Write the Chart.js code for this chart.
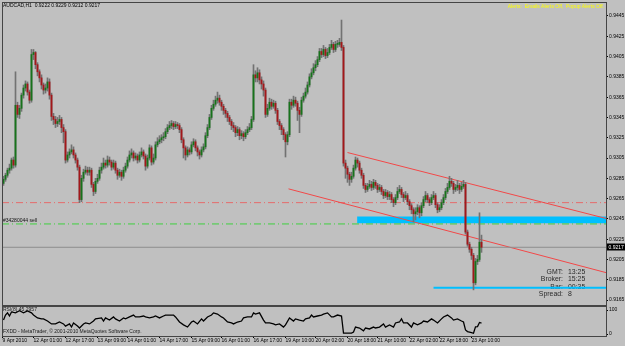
<!DOCTYPE html>
<html><head><meta charset="utf-8">
<script src="https://cdn.jsdelivr.net/npm/chart.js@4/dist/chart.umd.min.js"></script>
<style>
html,body{margin:0;padding:0;background:#c0c0c0;}
#wrap{position:relative;width:625px;height:346px;overflow:hidden;background:#c0c0c0;}
.pane{position:absolute;left:0;width:625px;}
</style></head><body>
<div id="wrap">
<div class="pane" style="top:0;height:306px"><canvas id="main" width="625" height="306"></canvas></div>
<div class="pane" style="top:306px;height:40px"><canvas id="rsi" width="625" height="40"></canvas></div>
</div>
<script>
// ---------- DATA ----------
const firstOpen = 0.9280;
const closes = [
0.9284,0.9288,0.9293,0.9295,0.9303,0.9298,0.9357,0.9348,0.9354,0.9367,
0.9374,0.9378,0.9370,0.9362,0.9407,0.9409,0.9397,0.9390,0.9384,0.9377,
0.9372,0.9374,0.9380,0.9367,0.9346,0.9343,0.9339,0.9341,0.9343,0.9335,
0.9331,0.9303,0.9308,0.9311,0.9313,0.9308,0.9303,0.9296,0.9264,0.9285,
0.9291,0.9293,0.9291,0.9293,0.9279,0.9272,0.9282,0.9285,0.9293,0.9296,
0.9300,0.9298,0.9303,0.9301,0.9296,0.9300,0.9293,0.9288,0.9291,0.9287,
0.9293,0.9297,0.9303,0.9308,0.9310,0.9305,0.9307,0.9303,0.9308,0.9311,
0.9307,0.9297,0.9305,0.9315,0.9301,0.9305,0.9318,0.9321,0.9323,0.9325,
0.9326,0.9331,0.9335,0.9337,0.9339,0.9336,0.9338,0.9337,0.9333,0.9323,
0.9315,0.9308,0.9313,0.9311,0.9318,0.9321,0.9315,0.9311,0.9308,0.9313,
0.9316,0.9327,0.9335,0.9345,0.9354,0.9358,0.9362,0.9364,0.9360,0.9356,
0.9352,0.9349,0.9345,0.9341,0.9337,0.9335,0.9330,0.9333,0.9327,0.9329,
0.9326,0.9330,0.9333,0.9335,0.9343,0.9387,0.9384,0.9389,0.9382,0.9378,
0.9372,0.9348,0.9354,0.9360,0.9356,0.9359,0.9352,0.9341,0.9337,0.9333,
0.9328,0.9321,0.9328,0.9360,0.9357,0.9362,0.9359,0.9352,0.9348,0.9362,
0.9366,0.9370,0.9377,0.9385,0.9389,0.9394,0.9397,0.9402,0.9410,0.9407,
0.9412,0.9406,0.9409,0.9414,0.9417,0.9412,0.9417,0.9417,0.9419,0.9414,
0.9300,0.9295,0.9289,0.9284,0.9287,0.9295,0.9303,0.9300,0.9293,0.9288,
0.9278,0.9274,0.9277,0.9279,0.9276,0.9281,0.9278,0.9274,0.9276,0.9272,
0.9268,0.9271,0.9267,0.9269,0.9264,0.9261,0.9266,0.9272,0.9274,0.9269,
0.9266,0.9268,0.9262,0.9258,0.9254,0.9250,0.9252,0.9256,0.9251,0.9258,
0.9264,0.9268,0.9264,0.9261,0.9266,0.9268,0.9259,0.9254,0.9256,0.9261,
0.9266,0.9272,0.9276,0.9282,0.9280,0.9274,0.9276,0.9278,0.9274,0.9277,
0.9279,0.9232,0.9220,0.9215,0.9209,0.9182,0.9203,0.9205,0.9222,0.9217];
const highs = [
0.9287,0.9290,0.9295,0.9299,0.9305,0.9306,0.9390,0.9360,0.9357,0.9369,
0.9377,0.9381,0.9380,0.9372,0.9412,0.9412,0.9410,0.9399,0.9392,0.9387,
0.9379,0.9378,0.9384,0.9383,0.9369,0.9349,0.9346,0.9345,0.9347,0.9345,
0.9338,0.9333,0.9311,0.9314,0.9318,0.9316,0.9310,0.9305,0.9298,0.9288,
0.9294,0.9297,0.9296,0.9296,0.9295,0.9281,0.9285,0.9289,0.9296,0.9300,
0.9305,0.9303,0.9307,0.9306,0.9303,0.9303,0.9302,0.9295,0.9294,0.9293,
0.9296,0.9300,0.9306,0.9312,0.9314,0.9312,0.9310,0.9309,0.9311,0.9315,
0.9313,0.9309,0.9308,0.9318,0.9317,0.9309,0.9321,0.9325,0.9327,0.9328,
0.9330,0.9334,0.9338,0.9341,0.9342,0.9341,0.9341,0.9340,0.9339,0.9335,
0.9325,0.9317,0.9316,0.9315,0.9321,0.9324,0.9323,0.9317,0.9313,0.9316,
0.9319,0.9330,0.9338,0.9348,0.9357,0.9362,0.9366,0.9370,0.9367,0.9362,
0.9358,0.9354,0.9351,0.9347,0.9343,0.9340,0.9337,0.9336,0.9335,0.9332,
0.9331,0.9333,0.9336,0.9339,0.9346,0.9397,0.9391,0.9394,0.9392,0.9385,
0.9381,0.9374,0.9358,0.9364,0.9363,0.9362,0.9361,0.9354,0.9343,0.9339,
0.9335,0.9330,0.9331,0.9363,0.9363,0.9366,0.9365,0.9361,0.9355,0.9365,
0.9369,0.9374,0.9380,0.9388,0.9393,0.9398,0.9401,0.9405,0.9413,0.9413,
0.9416,0.9414,0.9413,0.9417,0.9421,0.9419,0.9420,0.9421,0.9423,0.9441,
0.9416,0.9303,0.9297,0.9291,0.9291,0.9298,0.9306,0.9305,0.9302,0.9295,
0.9290,0.9280,0.9280,0.9283,0.9282,0.9284,0.9283,0.9280,0.9279,0.9278,
0.9274,0.9274,0.9273,0.9272,0.9271,0.9266,0.9269,0.9276,0.9278,0.9276,
0.9271,0.9272,0.9270,0.9264,0.9260,0.9256,0.9256,0.9259,0.9258,0.9261,
0.9267,0.9272,0.9270,0.9266,0.9269,0.9272,0.9270,0.9261,0.9259,0.9264,
0.9269,0.9275,0.9280,0.9287,0.9285,0.9282,0.9279,0.9283,0.9280,0.9281,
0.9283,0.9281,0.9234,0.9222,0.9217,0.9211,0.9206,0.9209,0.9251,0.9229];
const lows = [
0.9278,0.9282,0.9286,0.9290,0.9293,0.9295,0.9296,0.9345,0.9344,0.9351,
0.9364,0.9371,0.9367,0.9359,0.9360,0.9402,0.9393,0.9386,0.9380,0.9373,
0.9368,0.9369,0.9371,0.9363,0.9342,0.9338,0.9335,0.9336,0.9338,0.9330,
0.9320,0.9300,0.9301,0.9305,0.9309,0.9305,0.9300,0.9293,0.9261,0.9262,
0.9282,0.9289,0.9288,0.9288,0.9276,0.9268,0.9270,0.9280,0.9283,0.9290,
0.9294,0.9295,0.9296,0.9298,0.9293,0.9294,0.9290,0.9284,0.9286,0.9283,
0.9285,0.9291,0.9295,0.9301,0.9305,0.9302,0.9303,0.9300,0.9301,0.9306,
0.9304,0.9293,0.9295,0.9303,0.9298,0.9299,0.9303,0.9316,0.9319,0.9320,
0.9322,0.9324,0.9329,0.9333,0.9334,0.9333,0.9334,0.9334,0.9330,0.9320,
0.9305,0.9303,0.9306,0.9308,0.9309,0.9316,0.9312,0.9307,0.9304,0.9306,
0.9311,0.9314,0.9325,0.9333,0.9343,0.9352,0.9356,0.9359,0.9357,0.9352,
0.9348,0.9345,0.9341,0.9338,0.9333,0.9331,0.9326,0.9327,0.9323,0.9324,
0.9322,0.9324,0.9328,0.9331,0.9333,0.9341,0.9380,0.9380,0.9378,0.9373,
0.9366,0.9345,0.9346,0.9352,0.9353,0.9354,0.9349,0.9338,0.9333,0.9328,
0.9323,0.9306,0.9318,0.9326,0.9353,0.9355,0.9356,0.9342,0.9330,0.9346,
0.9360,0.9364,0.9368,0.9375,0.9383,0.9387,0.9391,0.9395,0.9400,0.9404,
0.9405,0.9403,0.9404,0.9407,0.9412,0.9409,0.9410,0.9414,0.9415,0.9411,
0.9297,0.9285,0.9281,0.9278,0.9281,0.9285,0.9293,0.9296,0.9290,0.9285,
0.9275,0.9271,0.9272,0.9275,0.9273,0.9274,0.9275,0.9271,0.9272,0.9269,
0.9265,0.9266,0.9264,0.9264,0.9261,0.9257,0.9259,0.9264,0.9270,0.9266,
0.9262,0.9264,0.9259,0.9254,0.9250,0.9242,0.9244,0.9249,0.9246,0.9248,
0.9256,0.9262,0.9261,0.9258,0.9259,0.9264,0.9256,0.9251,0.9252,0.9254,
0.9259,0.9264,0.9270,0.9274,0.9277,0.9270,0.9272,0.9273,0.9270,0.9272,
0.9275,0.9230,0.9218,0.9212,0.9205,0.9175,0.9180,0.9200,0.9203,0.9212];

const rsiBars = [0,1,2,3,4,6,8,10,12,14,15,17,19,20,22,24,26,28,30,31,33,34,35,37,38,40,41,43,45,46,49,50,51,53,55,56,58,60,61,63,65,66,68,70,71,73,75,76,78,80,81,85,86,88,90,92,94,95,97,99,100,102,104,105,107,109,110,112,114,115,117,119,120,122,124,125,126,128,130,131,133,135,136,138,140,141,143,145,146,148,150,151,153,154,155,157,159,160,162,164,165,167,169,170,171,174,175,176,178,180,181,183,185,186,188,190,191,193,195,196,198,199,200,202,204,205,207,209,210,212,214,215,217,219,220,222,224,225,227,229,230,231,232,233,234,235,236,237,238,239];
const rsiValues = [58,79,88,75,92,88,97,88,96,88,79,67,63,63,54,42,42,50,42,33,42,29,46,33,25,42,46,42,54,63,67,54,67,58,71,63,54,67,63,71,79,71,71,75,71,67,71,75,67,75,79,79,71,50,38,29,50,54,42,63,54,71,79,88,83,71,67,50,46,42,50,54,67,71,71,88,83,88,58,46,46,42,38,42,29,38,67,54,63,58,54,63,67,79,71,75,79,83,88,71,71,79,75,4,4,4,8,29,25,13,25,21,29,25,29,42,29,38,29,46,50,63,46,46,29,46,38,46,54,50,63,58,46,63,71,79,67,58,63,54,50,17,10,8,6,3,30,31,48,45.2957];

const priceTicks = [0.9165,0.9185,0.9205,0.9225,0.9245,0.9265,0.9285,0.9305,0.9325,0.9345,0.9365,0.9385,0.9405,0.9425,0.9445];
const rsiTicks = [0,100];
const timeTickBars = [-0.5,15,31,47,62,78,94,109,125,141,156,172,187,203,218,234];
const timeLabels = ['9 Apr 2010','12 Apr 01:00','12 Apr 17:00','13 Apr 09:00','14 Apr 01:00','14 Apr 17:00','15 Apr 09:00','16 Apr 01:00','16 Apr 17:00','19 Apr 10:00','20 Apr 02:00','20 Apr 18:00','21 Apr 10:00','22 Apr 02:00','22 Apr 18:00','23 Apr 10:00'];

const levelRed = 0.9261;
const levelGreen = 0.9240;
const zoneTop = 0.9247, zoneBottom = 0.9241, zoneStartBar = 177;
const supportLevel = 0.9177, supportStartBar = 215;
const trendUpper = [[172,0.93104],[301.5,0.92453]];
const trendLower = [[142.5,0.92746],[301.5,0.91919]];

const headerText = 'AUDCAD,H1  0.9222 0.9229 0.9212 0.9217';
const alertText = 'Alerts:  Emails Alerts Off,  Popup Alerts Off.';
const orderText = '#34280044 sell';
const infoLabels = ['GMT:','Broker:','Bar:','Spread:'];
const infoValues = ['13:25','15:25','00:35','8'];
const rsiTitle = 'RSI(8) 45.2957';
const copyright = 'FXDD - MetaTrader, \u00A9 2001-2010 MetaQuotes Software Corp.';

// ---------- CHART ----------
const FONT = '"Liberation Sans", Arial, sans-serif';
Chart.defaults.font.family = FONT;
const XMIN = -0.75, XMAX = 301.25;
const N = closes.length;
const opens = closes.map((c,i)=> i===0 ? firstOpen : closes[i-1]);
const bodyData = closes.map((c,i)=>({x:i, y:[opens[i], c]}));
const wickData = closes.map((c,i)=>({x:i, y:[lows[i], highs[i]]}));
const bodyColors = closes.map((c,i)=> c >= opens[i] ? '#17731b' : '#a3171a');
const seg = (a,b,y1,y2)=>[{x:a,y:y1},{x:b,y:y2===undefined?y1:y2}];

function frame(chart){
  const ca = chart.chartArea, ctx = chart.ctx;
  ctx.save(); ctx.strokeStyle = '#454545'; ctx.lineWidth = 1;
  ctx.strokeRect(ca.left+0.5, ca.top+0.5, ca.right-ca.left, ca.bottom-ca.top);
  ctx.restore();
}

const mainDeco = {
  id:'mainDeco',
  beforeDatasetsDraw(chart){
    const ctx = chart.ctx, y = chart.scales.y;
    ctx.save();
    ctx.textBaseline = 'middle';
    ctx.font = '6.9px ' + FONT; ctx.fillStyle = '#2a2a2a';
    const rows = [272, 279.5, 287, 294.5];
    infoLabels.forEach((t,k)=>{
      ctx.textAlign='right'; ctx.fillText(t, 563, rows[k]);
      ctx.textAlign='left'; ctx.fillText(infoValues[k], 568, rows[k]);
    });
    ctx.font = '5px ' + FONT; ctx.fillStyle = '#111'; ctx.textAlign='left';
    ctx.fillText(orderText, 3, y.getPixelForValue(levelGreen) - 3.5);
    ctx.restore();
  },
  afterDraw(chart){
    const ctx = chart.ctx, y = chart.scales.y;
    frame(chart);
    ctx.save();
    ctx.textBaseline = 'middle';
    ctx.font = '5px ' + FONT; ctx.fillStyle = '#000'; ctx.textAlign='left';
    ctx.fillText(headerText, 3, 5.5);
    ctx.fillStyle = '#ffff00'; ctx.textAlign='right';
    ctx.fillText(alertText, 604, 6.5);
    const py = y.getPixelForValue(closes[N-1]);
    ctx.fillStyle = '#000'; ctx.fillRect(607, Math.round(py)-3.5, 18, 7);
    ctx.fillStyle = '#fff'; ctx.textAlign='left';
    ctx.fillText(closes[N-1].toFixed(4), 608.5, py);
    ctx.restore();
  }
};

new Chart(document.getElementById('main'), {
  type:'bar',
  data:{ datasets:[
    {type:'bar', data:bodyData, backgroundColor:bodyColors, barThickness:1.2, minBarLength:1, grouped:false, order:0},
    {type:'bar', data:wickData, backgroundColor:'#727272', barThickness:1, grouped:false, order:1},
    {type:'line', data:seg(XMIN,XMAX,closes[N-1]), borderColor:'#8d8d8d', borderWidth:1, pointRadius:0, order:2},
    {type:'line', data:trendUpper.map(p=>({x:p[0],y:p[1]})), borderColor:'#f24848', borderWidth:1, pointRadius:0, order:3},
    {type:'line', data:trendLower.map(p=>({x:p[0],y:p[1]})), borderColor:'#f24848', borderWidth:1, pointRadius:0, order:3},
    {type:'line', data:seg(XMIN,XMAX,levelRed), borderColor:'#e66a6a', borderWidth:1, borderDash:[7,3,1,3], pointRadius:0, order:4},
    {type:'line', data:seg(XMIN,XMAX,levelGreen), borderColor:'#3fd03f', borderWidth:1, borderDash:[7,3,1,3], pointRadius:0, order:4},
    {type:'line', data:seg(supportStartBar,XMAX,supportLevel), borderColor:'#00bfff', borderWidth:2, pointRadius:0, order:5},
    {type:'bar', data:[{x:(zoneStartBar+XMAX)/2, y:[zoneBottom, zoneTop]}], backgroundColor:'#00bfff', barThickness:(XMAX-zoneStartBar)*2, grouped:false, order:6}
  ]},
  options:{
    responsive:false, animation:false, events:[],
    layout:{padding:{left:2, top:2, right:0, bottom:1}},
    plugins:{legend:{display:false}, tooltip:{enabled:false}},
    scales:{
      x:{type:'linear', min:XMIN, max:XMAX, display:false, offset:false},
      y:{type:'linear', position:'right', min:0.91601, max:0.94588,
         afterBuildTicks:(s)=>{ s.ticks = priceTicks.map(v=>({value:v})); },
         afterFit:(s)=>{ s.width = 19; s.paddingTop = 0; s.paddingBottom = 0; },
         grid:{drawOnChartArea:false, drawTicks:true, tickLength:2, color:'#000'},
         border:{display:false},
         ticks:{font:{size:5}, color:'#000', padding:1, autoSkip:false, callback:(v)=>Number(v).toFixed(4)}
      }
    }
  },
  plugins:[mainDeco]
});

const rsiDeco = {
  id:'rsiDeco',
  beforeDatasetsDraw(chart){
    const ctx = chart.ctx; ctx.save();
    ctx.textBaseline='middle'; ctx.textAlign='left';
    ctx.font = '5px ' + FONT; ctx.fillStyle = '#1a1a1a';
    ctx.fillText(rsiTitle, 3, 3.8);
    ctx.fillText(copyright, 3, 25.5);
    ctx.restore();
  },
  afterDraw(chart){ frame(chart); }
};

new Chart(document.getElementById('rsi'), {
  type:'line',
  data:{ datasets:[
    {data:rsiBars.map((b,k)=>({x:b, y:rsiValues[k]})), borderColor:'#000', borderWidth:1.3, pointRadius:0, tension:0}
  ]},
  options:{
    responsive:false, animation:false, events:[],
    layout:{padding:{left:2, top:0, right:0, bottom:0}},
    plugins:{legend:{display:false}, tooltip:{enabled:false}},
    scales:{
      x:{type:'linear', min:XMIN, max:XMAX, position:'bottom', offset:false,
         afterBuildTicks:(s)=>{ s.ticks = timeTickBars.map(v=>({value:v})); },
         afterFit:(s)=>{ s.height = 10; s.paddingLeft = 0; s.paddingRight = 0; },
         grid:{drawOnChartArea:false, drawTicks:true, tickLength:2, color:'#000'},
         border:{display:false},
         ticks:{font:{size:5}, color:'#000', padding:0, align:'start', autoSkip:false, maxRotation:0, minRotation:0,
                callback:(v,i)=>timeLabels[i]}
      },
      y:{type:'linear', position:'right', min:-8.33, max:116.67,
         afterBuildTicks:(s)=>{ s.ticks = rsiTicks.map(v=>({value:v})); },
         afterFit:(s)=>{ s.width = 19; s.paddingTop = 0; s.paddingBottom = 0; },
         grid:{drawOnChartArea:false, drawTicks:true, tickLength:2, color:'#000'},
         border:{display:false},
         ticks:{font:{size:5}, color:'#000', padding:1, autoSkip:false, callback:(v)=>String(v)}
      }
    }
  },
  plugins:[rsiDeco]
});
</script>
</body></html>
